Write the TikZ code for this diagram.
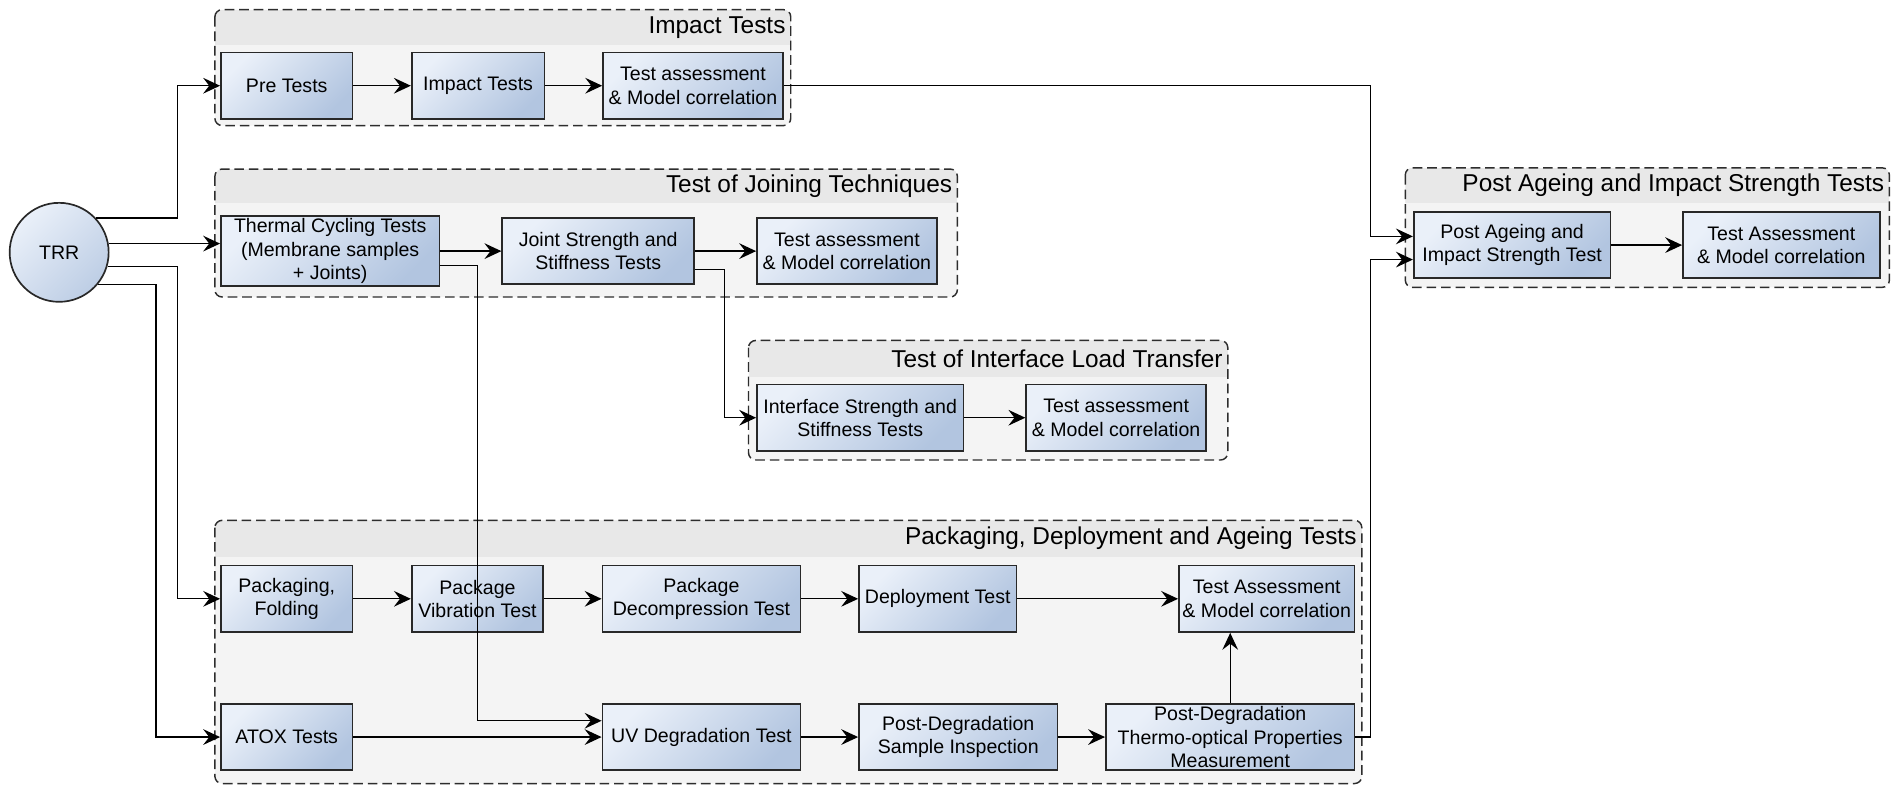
\documentclass[tikz,border=0pt]{standalone}
\usepackage{fontspec}
\setmainfont{Liberation Sans}
\usepackage{xcolor}
\usepackage{tikz}
\usetikzlibrary{arrows.meta,positioning}
\definecolor{boxlight}{RGB}{234,240,249}
\definecolor{boxdark}{RGB}{178,197,224}
\definecolor{boxline}{RGB}{40,40,40}
\definecolor{groupfill}{RGB}{244,244,244}
\definecolor{groupband}{RGB}{232,232,232}
\definecolor{groupline}{RGB}{45,45,45}

\tikzset{
  testbox/.style={draw=boxline, line width=0.7pt, left color=boxlight, right color=boxdark, shading angle=45,
    align=center, inner sep=1pt, minimum height=27.5pt, font=\fontsize{8.1}{9.7}\selectfont},
  flow/.style={draw=black, line width=0.55pt, -{Stealth[length=7pt,width=6.5pt,inset=2.5pt]}},
  grouptitle/.style={anchor=east, inner sep=0pt, font=\fontsize{10.1}{12}\selectfont}
}

% group frame: x1, y1, x2, y2, band bottom, name, title
\newcommand{\testgroup}[7]{%
  \fill[groupfill, rounded corners=3pt] (#1,#2) rectangle (#3,#4);
  \begin{scope}
    \clip[rounded corners=3pt] (#1,#2) rectangle (#3,#4);
    \fill[groupband] (#1,#2) rectangle (#3,#5);
  \end{scope}
  \draw[groupline, line width=0.6pt, dash pattern=on 4pt off 2pt, rounded corners=3pt] (#1,#2) rectangle (#3,#4);
  \node[grouptitle] (#6) at (#3-4,{(#2+#5)/2}) {#7};
}

\begin{document}
\begin{tikzpicture}[x=0.5pt, y=-0.5pt]
\useasboundingbox (0,0) rectangle (1568,650);

% groups
\testgroup{178}{8}{655}{104}{37}{gimpact}{Impact Tests}
\testgroup{178}{140}{793}{246}{168}{gjoining}{Test of Joining Techniques}
\testgroup{620}{282}{1017}{381}{312}{giface}{Test of Interface Load Transfer}
\testgroup{178}{431}{1128}{649}{461}{gpack}{Packaging, Deployment and Ageing Tests}
\testgroup{1164}{139}{1565}{238}{168}{gpost}{Post Ageing and Impact Strength Tests}

% start
\node[circle, draw=boxline, line width=0.7pt, left color=boxlight, right color=boxdark!80!boxlight, shading angle=45,
  minimum size=41pt, inner sep=0pt, font=\fontsize{8.1}{9.7}\selectfont] (trr) at (49,209) {TRR};

% impact tests
\node[testbox, minimum width=54.5pt] (pre) at (237.5,71) {Pre Tests};
\node[testbox, minimum width=55pt] (impact) at (396,71) {Impact Tests};
\node[testbox, minimum width=74.5pt] (assessimpact) at (574,71) {Test assessment\\\& Model correlation};

% joining techniques
\node[testbox, minimum width=90.5pt] (thermal) at (273.5,208) {Thermal Cycling Tests\\(Membrane samples\\+ Joints)};
\node[testbox, minimum width=79.5pt] (joint) at (495.5,208) {Joint Strength and\\Stiffness Tests};
\node[testbox, minimum width=74.5pt] (assessjoint) at (701.5,208) {Test assessment\\\& Model correlation};

% interface load transfer
\node[testbox, minimum width=85.5pt] (iface) at (712.5,346) {Interface Strength and\\Stiffness Tests};
\node[testbox, minimum width=74.5pt] (assessiface) at (924.5,346) {Test assessment\\\& Model correlation};

% post ageing
\node[testbox, minimum width=81.5pt] (postageing) at (1252.5,203) {Post Ageing and\\Impact Strength Test};
\node[testbox, minimum width=81.5pt] (assesspost) at (1475.5,203) {Test Assessment\\\& Model correlation};

% packaging, deployment, ageing
\node[testbox, minimum width=54.5pt] (pack) at (237.5,496) {Packaging,\\Folding};
\node[testbox, minimum width=54.5pt] (vib) at (395.5,496) {Package\\Vibration Test};
\node[testbox, minimum width=82pt] (decomp) at (581,496) {Package\\Decompression Test};
\node[testbox, minimum width=65.25pt] (deploy) at (776.75,496) {Deployment Test};
\node[testbox, minimum width=72.75pt] (assesspack) at (1049.25,496) {Test Assessment\\\& Model correlation};
\node[testbox, minimum width=54.5pt] (atox) at (237.5,610.5) {ATOX Tests};
\node[testbox, minimum width=82pt] (uv) at (581,610.5) {UV Degradation Test};
\node[testbox, minimum width=82.25pt] (inspect) at (793.75,610.5) {Post-Degradation\\Sample Inspection};
\node[testbox, minimum width=103pt] (thermo) at (1019,610.5) {Post-Degradation\\Thermo-optical Properties\\Measurement};

\coordinate (pain1) at ([yshift=3.6pt]postageing.west);
\coordinate (pain2) at ([yshift=-6pt]postageing.west);
\coordinate (uvin) at ([yshift=6.75pt]uv.west);

% connectors
\draw[flow] (trr.43) -| ([xshift=-17.5pt]pre.west) -- (pre.west);
\draw[flow] (trr.10) -- (trr.10 -| thermal.west);
\draw[flow] (trr.-16) -| ([xshift=-17.5pt]pack.west) -- (pack.west);
\draw[flow] (trr.-40) -| ([xshift=-26.5pt]atox.west) -- (atox.west);

\draw[flow] (pre) -- (impact);
\draw[flow] (impact) -- (assessimpact);
\draw[flow] (assessimpact.east) -| ([xshift=-17.5pt]pain1) -- (pain1);

\draw[flow] (thermal) -- (joint);
\draw[flow] (joint) -- (assessjoint);
\draw[flow] ([yshift=-6pt]thermal.east) -| ([xshift=-51.5pt]uvin) -- (uvin);
\draw[flow] ([yshift=-7.5pt]joint.east) -| ([xshift=-13pt]iface.west) -- (iface.west);
\draw[flow] (iface) -- (assessiface);

\draw[flow] (postageing) -- (assesspost);

\draw[flow] (pack) -- (vib);
\draw[flow] (vib) -- (decomp);
\draw[flow] (decomp) -- (deploy);
\draw[flow] (deploy) -- (assesspack);
\draw[flow] (atox) -- (uv);
\draw[flow] (uv) -- (inspect);
\draw[flow] (inspect) -- (thermo);
\draw[flow] (thermo.north) -- (thermo.north |- assesspack.south);
\draw[flow] (thermo.east) -| ([xshift=-17.5pt]pain2) -- (pain2);
\end{tikzpicture}
\end{document}
